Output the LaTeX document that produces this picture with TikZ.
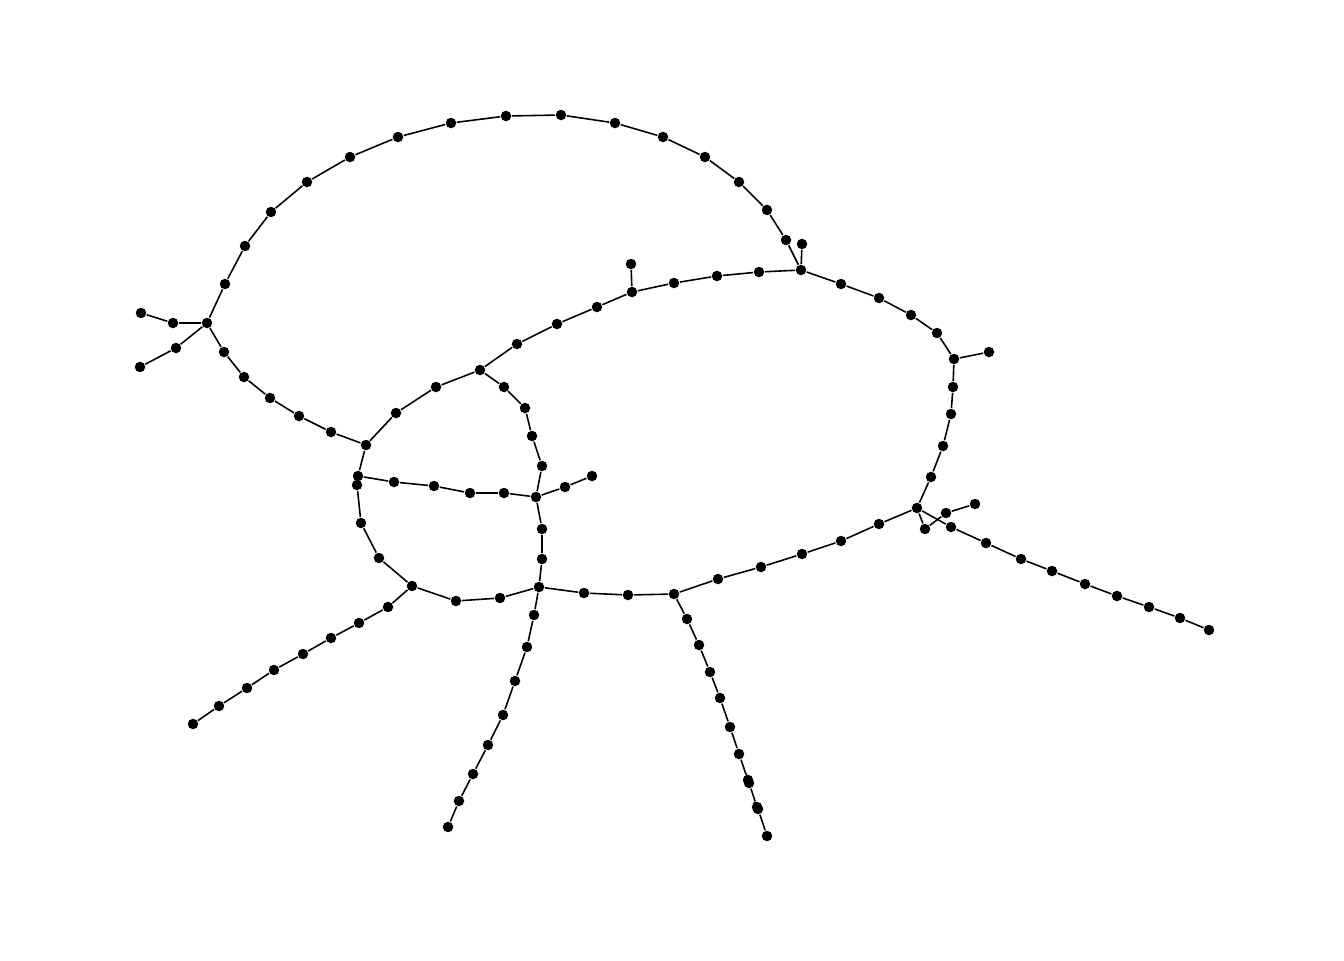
\documentclass[tikz,border=0pt]{standalone}
\usepackage{tikz}
\usetikzlibrary{positioning}
\tikzset{
    dot/.style={circle, fill=black, inner sep=0pt, minimum size=1.05mm},
    link/.style={draw, line width=0.45pt},
}
% chain of dots: #1 name prefix, #2 node it starts from, #3 list of x/y
\newcommand{\dotchain}[3]{%
    \foreach \x/\y [count=\i] in {#3} \node[dot] (#1\i) at (\x,\y) {};
    \foreach \x/\y [count=\i, remember=\i as \j (initially 0)] in {#3} {%
        \ifnum\i=1 \path[link] (#2) -- (#1\i);
        \else \path[link] (#1\j) -- (#1\i); \fi}%
}

\begin{document}
\begin{tikzpicture}[x=0.1mm, y=-0.1mm]
        \useasboundingbox (0,0) rectangle (1344,960);

        % Junctions
        \node[dot] (hA) at (207,323) {};
        \node[dot] (hB) at (366,445) {};
        \node[dot] (hC) at (480,370) {};
        \node[dot] (hD) at (632,292) {};
        \node[dot] (hH) at (801,270) {};
        \node[dot] (hE) at (954,359) {};
        \node[dot] (hF) at (917,508) {};
        \node[dot] (hG) at (674,594) {};
        \node[dot] (hI) at (539,587) {};
        \node[dot] (hJ) at (412,586) {};
        \node[dot] (hK) at (536,497) {};
        \node[dot] (hM) at (358,476) {};

        % Outer arc
        \dotchain{arc}{hA}{225/284,245/246,271/212,307/182,350/157,398/137,451/123,506/116,
            561/115,615/123,663/137,705/157,739/182,767/210,786/240}
        \path[link] (arc15) -- (hH);
        \dotchain{tipH}{hH}{802/244}

        % Left side
        \dotchain{lfa}{hA}{173/323,141/313}
        \dotchain{lfb}{hA}{176/348,140/367}
        \dotchain{low}{hA}{224/352,244/377,270/398,299/416,331/432}
        \path[link] (low5) -- (hB);

        % Inner ring
        \dotchain{rba}{hB}{396/413,436/387}
        \path[link] (rba2) -- (hC);
        \dotchain{rbb}{hC}{517/344,557/324,597/307}
        \path[link] (rbb3) -- (hD);
        \dotchain{tipD}{hD}{631/264}
        \dotchain{rbc}{hD}{674/283,717/276,759/272}
        \path[link] (rbc3) -- (hH);
        \dotchain{rbd}{hH}{841/284,879/298,911/315,937/333}
        \path[link] (rbd4) -- (hE);
        \dotchain{tipE}{hE}{989/352}
        \dotchain{rbe}{hE}{953/387,951/414,943/446,931/477}
        \path[link] (rbe4) -- (hF);
        \dotchain{rbf}{hF}{879/524,841/541,802/554,761/567,718/579}
        \path[link] (rbf5) -- (hG);
        \dotchain{rbg}{hG}{628/595,584/593}
        \path[link] (rbg2) -- (hI);
        \dotchain{rbh}{hI}{500/598,456/601}
        \path[link] (rbh2) -- (hJ);
        \dotchain{rbi}{hJ}{379/558,361/523,357/485}
        \path[link] (rbi3) -- (hM);
        \path[link] (hM) -- (hB);

        % Cross links
        \dotchain{mid}{hM}{394/482,434/486,470/493,504/493}
        \path[link] (mid4) -- (hK);
        \dotchain{tipK}{hK}{565/487,592/476}
        \dotchain{vka}{hI}{542/559,542/529}
        \path[link] (vka2) -- (hK);
        \dotchain{vkb}{hK}{542/466,532/436,525/408,504/387}
        \path[link] (vkb4) -- (hC);

        % Right side
        \dotchain{tipF}{hF}{925/529,946/513,975/504}
        \dotchain{east}{hF}{951/527,986/543,1021/559,1052/571,1085/584,1117/596,1149/607,
            1180/618,1209/630}

        % Legs
        \dotchain{legJ}{hJ}{388/607,359/623,331/638,303/654,274/670,247/688,219/706,193/724}
        \dotchain{legI}{hI}{534/615,527/647,515/681,503/715,488/745,473/774,459/801,448/827}
        \dotchain{legG}{hG}{687/619,699/645,710/672,720/698,730/727,739/754,748/780,749/783,
            757/807,758/809,767/836}

\end{tikzpicture}
\end{document}
